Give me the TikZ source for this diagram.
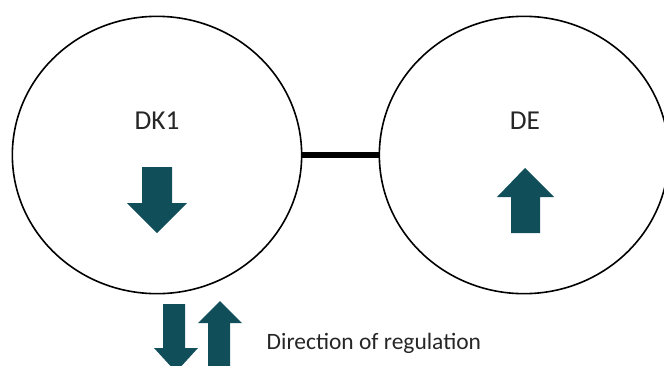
\documentclass[tikz,border=0pt]{standalone}
\usepackage{fontspec}
\setmainfont{Carlito}
\usetikzlibrary{shapes.geometric,positioning}

\definecolor{regteal}{RGB}{16,78,89}

\begin{document}
\begin{tikzpicture}[x=0.75pt, y=-0.75pt,
    region/.style = {ellipse, draw, line width=1.2pt, inner sep=0pt,
                     minimum width=217pt, minimum height=208pt},
    regarrow/.style = {fill=regteal},
    bond/.style = {line width=4pt}]
    \useasboundingbox (0,0) rectangle (664,365);
    \clip (0,0) rectangle (664,365);

    % the two regions
    \node[region] (dk1) at (157,155) {};
    \node[region] (de) at (524,155) {};
    \node[font=\fontsize{20.5}{24}\selectfont, text=black!85] (dk1text) at (157,121) {DK1};
    \node[font=\fontsize{20.5}{24}\selectfont, text=black!85] (detext) at (525,121) {DE};

    \draw[bond] (dk1.east) -- (de.west);

    % regulation arrows
    \fill[regarrow] (142,167) -- (172,167) -- (172,203) -- (187,203) -- (157,233)
        -- (127,203) -- (142,203) -- cycle;
    \fill[regarrow] (511,233) -- (540,233) -- (540,197) -- (554,197) -- (525,168)
        -- (497,197) -- (511,197) -- cycle;

    % legend
    \fill[regarrow] (163,304) -- (185,304) -- (185,348) -- (198,348) -- (176,372)
        -- (154,348) -- (163,348) -- cycle;
    \fill[regarrow] (208,370) -- (230,370) -- (230,323) -- (242,323) -- (220,301)
        -- (198,323) -- (208,323) -- cycle;
    \node[font=\fontsize{17.6}{21}\selectfont, text=black!85, anchor=west] (legend) at (262,343) {Direction of regulation};
\end{tikzpicture}
\end{document}
